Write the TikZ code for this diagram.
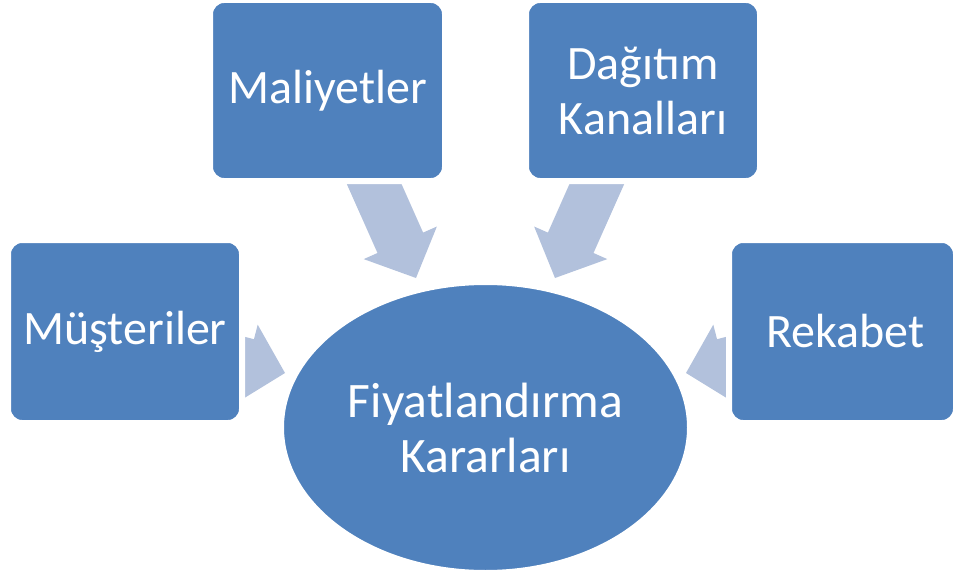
\documentclass[tikz,border=0pt]{standalone}
\usepackage{fontspec}
\setmainfont{Carlito}
\usetikzlibrary{shapes.geometric}
\definecolor{boxblue}{RGB}{79,129,189}
\definecolor{arrowblue}{RGB}{178,193,220}
\begin{document}
\begin{tikzpicture}[x=1pt,y=-1pt,
  box/.style={rectangle, rounded corners=14pt, fill=boxblue, draw=white, line width=6pt,
    text=white, align=center, inner sep=0pt, font=\fontsize{48}{55}\selectfont},
  hub/.style={ellipse, fill=boxblue, draw=white, line width=6pt, text=white, align=center,
    inner sep=0pt, font=\fontsize{49.6}{55}\selectfont},
  bigarrow/.style={fill=arrowblue, draw=none}]
\useasboundingbox (0,0) rectangle (956,578);
% block arrows (drawn first, partly hidden behind boxes)
\coordinate (t1) at (416,278);
\coordinate (t2) at (555,278);
\coordinate (t3) at (285,373);
\coordinate (t4) at (686,373);
\fill[bigarrow] (336.8,161.6) -- (377.5,253.0) -- (363.7,259.1) -- (t1) -- (436.9,226.5) -- (423.1,232.6) -- (382.5,141.2) -- cycle;
\fill[bigarrow] (634.2,161.6) -- (593.5,253.0) -- (607.3,259.1) -- (t2) -- (534.1,226.5) -- (547.9,232.6) -- (588.5,141.2) -- cycle;
\fill[bigarrow] (157.15,314.2) -- (253.95,339.2) -- (257.7,324.7) -- (t3) -- (237.7,402.1) -- (241.45,387.6) -- (144.65,362.6) -- cycle;
\fill[bigarrow] (813.85,314.2) -- (717.05,339.2) -- (713.3,324.7) -- (t4) -- (733.3,402.1) -- (729.55,387.6) -- (826.35,362.6) -- cycle;
% boxes
\node[box, minimum width=235pt, minimum height=181pt] (mal) at (327.5,90.5) {Maliyetler};
\node[box, minimum width=234pt, minimum height=181pt] (dag) at (643,90.5) {Dağıtım\\Kanalları};
\node[box, minimum width=234pt, minimum height=183pt] (mus) at (125,331.5) {Müşteriler};
\node[box, minimum width=227pt, minimum height=183pt] (rek) at (842.5,331.5) {\hspace*{6pt}Rekabet};
% hub
\node[hub, minimum width=409pt, minimum height=291pt] (fiy) at (485.5,427.5) {Fiyatlandırma\\Kararları};
\end{tikzpicture}
\end{document}
